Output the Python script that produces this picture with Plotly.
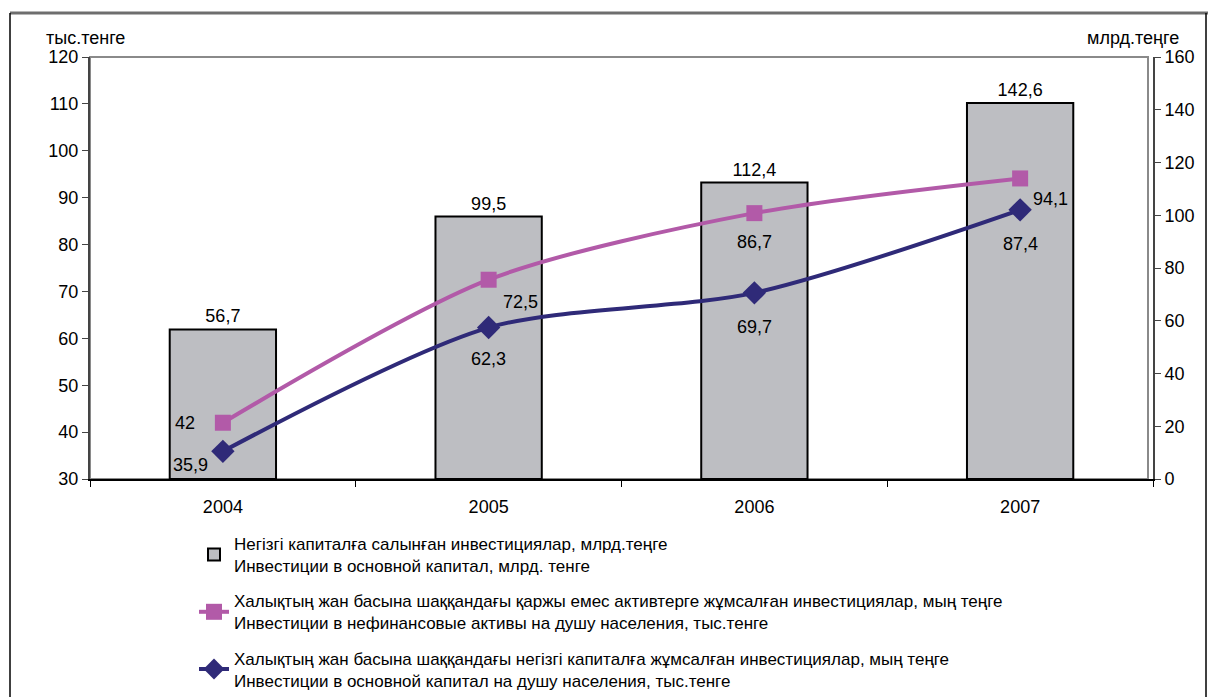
import plotly.graph_objects as go

years = ["2004", "2005", "2006", "2007"]
bar_values = [56.7, 99.5, 112.4, 142.6]
pink_values = [42, 72.5, 86.7, 94.1]
navy_values = [35.9, 62.3, 69.7, 87.4]

bar_name = "Негізгі капиталға салынған инвестициялар, млрд.теңге<br>Инвестиции в основной капитал, млрд. тенге"
pink_name = "Халықтың жан басына шаққандағы қаржы емес активтерге жұмсалған инвестициялар, мың теңге<br>Инвестиции в нефинансовые активы на душу населения, тыс.тенге"
navy_name = "Халықтың жан басына шаққандағы негізгі капиталға жұмсалған инвестициялар, мың теңге<br>Инвестиции в основной капитал на душу населения, тыс.тенге"

W, H = 1208, 697
L, R, T, B = 90, 1153, 57, 479

def px_x(px):
    return (px - L) / (R - L)

def px_y(py):
    return (B - py) / (B - T)

FONT = "Liberation Sans, Arial, sans-serif"
FS = 18
PINK = "#B25AA8"
NAVY = "#2F2A78"
BARC = "#BDBEC2"

fig = go.Figure()
fig.add_trace(go.Bar(
    x=years, y=bar_values, name=bar_name, yaxis="y", width=0.4,
    marker=dict(color=BARC, line=dict(color="#000000", width=2)),
    texttemplate="%{y:.1f}", textposition="outside",
    textfont=dict(size=FS, color="#000000", family=FONT),
    cliponaxis=False, legendgroup="a",
))
fig.add_trace(go.Scatter(
    x=years, y=pink_values, name=pink_name, yaxis="y2", mode="lines+markers",
    line=dict(color=PINK, width=4, shape="spline", smoothing=0.8),
    marker=dict(symbol="square", size=16, color=PINK),
    legendgroup="b",
))
fig.add_trace(go.Scatter(
    x=years, y=navy_values, name=navy_name, yaxis="y2", mode="lines+markers",
    line=dict(color=NAVY, width=4, shape="spline", smoothing=0.8),
    marker=dict(symbol="diamond", size=18, color=NAVY),
    legendgroup="c",
))

# data labels for lines
pink_off = [(-38, 0), (32, -22), (0, -29), (30, -21)]
navy_off = [(-32, -14), (0, -31), (0, -34), (0, -34)]
for i in range(len(years)):
    fig.add_annotation(x=i, xref="x", y=pink_values[i], yref="y2",
                       text=f"{pink_values[i]:g}".replace(".", ","),
                       showarrow=False, xshift=pink_off[i][0], yshift=pink_off[i][1],
                       xanchor="center", yanchor="middle",
                       font=dict(size=FS, color="#000", family=FONT))
    fig.add_annotation(x=i, xref="x", y=navy_values[i], yref="y2",
                       text=f"{navy_values[i]:g}".replace(".", ","),
                       showarrow=False, xshift=navy_off[i][0], yshift=navy_off[i][1],
                       xanchor="center", yanchor="middle",
                       font=dict(size=FS, color="#000", family=FONT))

# axis unit titles
fig.add_annotation(xref="paper", yref="paper", x=px_x(85), y=px_y(38), text="тыс.тенге",
                   xanchor="center", yanchor="middle",
                   showarrow=False, font=dict(size=FS, color="#000", family=FONT))
fig.add_annotation(xref="paper", yref="paper", x=px_x(1133), y=px_y(38), text="млрд.теңге",
                   xanchor="center", yanchor="middle",
                   showarrow=False, font=dict(size=FS, color="#000", family=FONT))

# plot-area frame and outer frame
fig.add_shape(type="rect", xref="paper", yref="paper", x0=0, x1=px_x(1148), y0=0, y1=1,
              line=dict(color="#8a8a8a", width=2), layer="below")
fig.add_shape(type="line", xref="paper", yref="paper", x0=px_x(10), x1=px_x(1210),
              y0=px_y(13), y1=px_y(13), line=dict(color="#6e6e6e", width=3))
fig.add_shape(type="line", xref="paper", yref="paper", x0=px_x(10), x1=px_x(10),
              y0=px_y(13), y1=px_y(700), line=dict(color="#000", width=1.5))
fig.add_shape(type="line", xref="paper", yref="paper", x0=px_x(1206), x1=px_x(1206),
              y0=px_y(13), y1=px_y(700), line=dict(color="#000", width=1.5))

fig.update_layout(
    width=W, height=H,
    margin=dict(l=L, r=W - R, t=T, b=H - B, autoexpand=False),
    paper_bgcolor="white", plot_bgcolor="white",
    font=dict(family=FONT, size=FS, color="#000"),
    separators=",.",
    showlegend=True,
    legend=dict(x=px_x(194), y=px_y(526), xanchor="left", yanchor="top",
                font=dict(size=17, family=FONT, color="#000"),
                tracegroupgap=10, traceorder="grouped", bgcolor="rgba(0,0,0,0)"),
    bargap=0.6,
    xaxis=dict(type="category", range=[-0.5, 3.5], showgrid=False,
               showline=True, linecolor="#000", linewidth=2,
               ticks="outside", tickson="boundaries", ticklen=6, tickcolor="#000",
               ticklabelstandoff=10, tickfont=dict(size=FS)),
    yaxis=dict(side="right", range=[0, 160], dtick=20, showgrid=False, zeroline=False,
               showline=True, linecolor="#444", linewidth=2,
               ticks="outside", ticklen=6, tickcolor="#444", tickfont=dict(size=FS)),
    yaxis2=dict(side="left", overlaying="y", range=[30, 120], dtick=10, showgrid=False,
                zeroline=False, showline=True, linecolor="#444", linewidth=2,
                ticks="outside", ticklen=6, tickcolor="#444", tickfont=dict(size=FS)),
)

fig.write_html("out.html", config={"displayModeBar": False},
               post_script="document.body.style.margin='0';document.body.style.overflow='hidden';")
